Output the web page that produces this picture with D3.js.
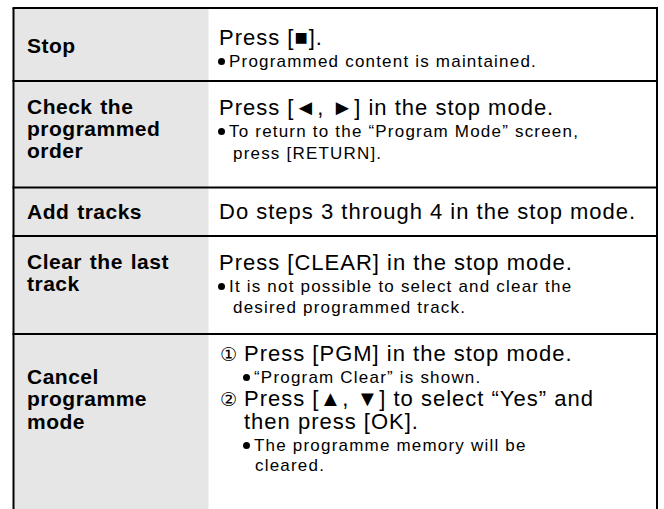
<!DOCTYPE html>
<html><head><meta charset="utf-8">
<script src="https://cdn.jsdelivr.net/npm/d3@7"></script>
<style>body{margin:0;background:#fff}</style></head>
<body><svg id="c" width="664" height="509"></svg>
<script>
// ---- data ----
const actions = ["Stop", "Check the programmed order", "Add tracks", "Clear the last track", "Cancel programme mode"];
const actionLines = [["Stop"], ["Check the", "programmed", "order"], ["Add tracks"], ["Clear the last", "track"], ["Cancel", "programme", "mode"]];
const stopSteps = [["main", "Press [■]."], ["bullet", "Programmed content is maintained."]];
const checkSteps = [["main", "Press [◄, ►] in the stop mode."], ["bullet", "To return to the “Program Mode” screen,"], ["cont", "press [RETURN]."]];
const addSteps = [["main", "Do steps 3 through 4 in the stop mode."]];
const clearSteps = [["main", "Press [CLEAR] in the stop mode."], ["bullet", "It is not possible to select and clear the"], ["cont", "desired programmed track."]];
const cancelSteps = [["num", "Press [PGM] in the stop mode.", "①"], ["nbullet", "“Program Clear” is shown."], ["num", "Press [▲, ▼] to select “Yes” and", "②"], ["ncont", "then press [OK]."], ["nbullet", "The programme memory will be"], ["ncont2", "cleared."]];
const steps = [stopSteps, checkSteps, addSteps, clearSteps, cancelSteps];

// ---- layout ----
const W = 664, H = 509;
const leftX = 13.5, rightX = 657, divX = 208.5, topY = 8;
const rowEdges = [8, 81, 187.5, 236, 334, 540];
const labelBaselines = [[53], [114, 136, 158], [219], [269, 291], [384, 406, 429]];
const stepBaselines = [[45, 67], [115, 137, 159], [219], [270, 292, 313], [361, 383, 406, 429, 451, 471]];
const indent = {main: 219, bullet: 218, cont: 233, num: 244, nbullet: 243, ncont: 244, ncont2: 255};
const fontFam = "'Liberation Sans', Arial, Helvetica, sans-serif";

const svg = d3.select("#c");
svg.append("rect").attr("width", W).attr("height", H).attr("fill", "#fff");

const rowScale = d3.scaleOrdinal().domain(actions).range(rowEdges.slice(0, 5));
const rowEnd = d3.scaleOrdinal().domain(actions).range(rowEdges.slice(1));

svg.selectAll("rect.lab").data(actions).join("rect").attr("class", "lab")
  .attr("x", leftX).attr("y", d => rowScale(d)).attr("width", divX - leftX)
  .attr("height", d => rowEnd(d) - rowScale(d)).attr("fill", "#e6e6e6");

const lg = svg.selectAll("g.lab").data(actions).join("g").attr("class", "lab");
lg.each(function(d, i) {
  d3.select(this).selectAll("text").data(actionLines[i]).join("text")
    .attr("x", 27).attr("y", (t, j) => labelBaselines[i][j])
    .attr("font-family", fontFam).attr("font-weight", "bold").attr("font-size", 21)
    .attr("letter-spacing", 0.5).attr("word-spacing", 1.5)
    .attr("fill", "#000").text(t => t);
});

const sg = svg.selectAll("g.step").data(actions).join("g").attr("class", "step");
sg.each(function(d, i) {
  const g = d3.select(this);
  steps[i].forEach((s, j) => {
    const [kind, txt, num] = s;
    const y = stepBaselines[i][j];
    const big = (kind === "main" || kind === "num" || kind === "ncont");
    const fs = big ? 22 : 17;
    const ls = big ? 1 : 1.2;
    if (kind === "num") {
      g.append("text").attr("x", 220).attr("y", y).attr("font-family", "'DejaVu Sans', sans-serif")
        .attr("font-size", 19).text(num);
    }
    if (kind === "bullet" || kind === "nbullet") {
      g.append("circle").attr("cx", indent[kind] + 3.5).attr("cy", y - 5.5).attr("r", 3.5).attr("fill", "#000");
      g.append("text").attr("x", indent[kind] + 11).attr("y", y).attr("font-family", fontFam)
        .attr("font-size", fs).attr("letter-spacing", ls).text(txt);
    } else {
      g.append("text").attr("x", indent[kind]).attr("y", y).attr("font-family", fontFam)
        .attr("font-size", fs).attr("letter-spacing", ls).text(txt);
    }
  });
});

const lines = svg.append("g").attr("stroke", "#000").attr("stroke-width", 2);
lines.selectAll("line.h").data(rowEdges.slice(0, 5)).join("line").attr("class", "h")
  .attr("x1", leftX - 1).attr("x2", rightX + 1).attr("y1", d => d).attr("y2", d => d);
lines.append("line").attr("x1", leftX).attr("x2", leftX).attr("y1", topY).attr("y2", H);
lines.append("line").attr("x1", rightX).attr("x2", rightX).attr("y1", topY).attr("y2", H);
</script></body></html>
